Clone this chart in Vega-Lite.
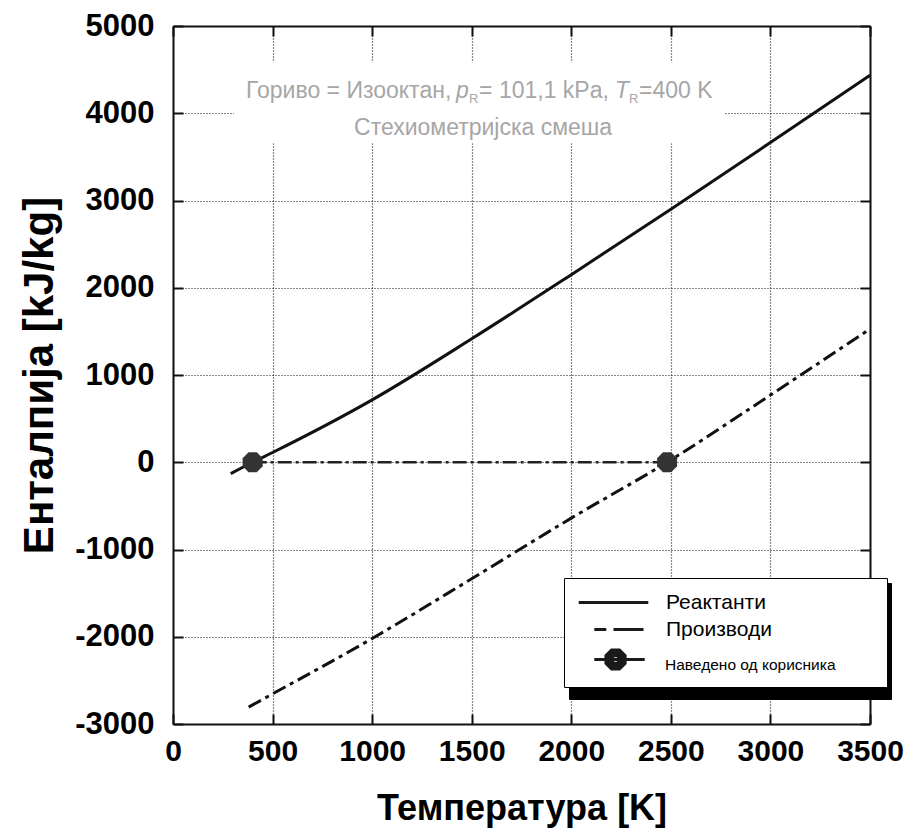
{
  "$schema": "https://vega.github.io/schema/vega-lite/v6.json",
  "width": 697,
  "height": 698,
  "autosize": "none",
  "padding": {"left": 173, "top": 26, "right": 50, "bottom": 115},
  "background": "white",
  "config": {
    "view": {"stroke": null},
    "axis": {"domainColor": "#111", "domainWidth": 2, "tickColor": "#111", "tickWidth": 2, "gridColor": "#111", "gridDash": [1, 2], "gridWidth": 1.2}
  },
  "datasets": {
    "curves": [
      {"T": 290, "H": -130, "series": "Реактанти"},
      {"T": 400, "H": 0, "series": "Реактанти"},
      {"T": 500, "H": 112, "series": "Реактанти"},
      {"T": 1000, "H": 715, "series": "Реактанти"},
      {"T": 1500, "H": 1415, "series": "Реактанти"},
      {"T": 2000, "H": 2150, "series": "Реактанти"},
      {"T": 2500, "H": 2900, "series": "Реактанти"},
      {"T": 3000, "H": 3665, "series": "Реактанти"},
      {"T": 3500, "H": 4436, "series": "Реактанти"},
      {"T": 380, "H": -2806, "series": "Производи"},
      {"T": 500, "H": -2655, "series": "Производи"},
      {"T": 1000, "H": -2020, "series": "Производи"},
      {"T": 1500, "H": -1335, "series": "Производи"},
      {"T": 2000, "H": -640, "series": "Производи"},
      {"T": 2481, "H": 0, "series": "Производи"},
      {"T": 3000, "H": 770, "series": "Производи"},
      {"T": 3500, "H": 1527, "series": "Производи"}
    ],
    "user": [
      {"T": 400, "H": 0, "series": "Наведено од корисника"},
      {"T": 2481, "H": 0, "series": "Наведено од корисника"}
    ],
    "one": [{}]
  },
  "resolve": {"axis": {"x": "independent", "y": "independent"}},
  "layer": [
    {
      "data": {"name": "curves"},
      "transform": [{"filter": "datum.series === 'Реактанти'"}],
      "mark": {"type": "line", "color": "#111", "strokeWidth": 3, "interpolate": "monotone"},
      "encoding": {
        "x": {"field": "T", "type": "quantitative", "scale": {"domain": [0, 3500], "nice": false},
          "axis": {"orient": "bottom", "values": [0, 500, 1000, 1500, 2000, 2500, 3000, 3500], "grid": true, "tickSize": -10,
            "labelExpr": "'' + datum.value",
            "labelFont": "Liberation Sans", "labelFontWeight": "bold", "labelFontSize": 30, "labelColor": "#000", "labelPadding": 22, "labelFlush": false,
            "title": "Температура [K]", "titleFont": "Liberation Sans", "titleFontWeight": "bold", "titleFontSize": 36, "titleColor": "#000", "titlePadding": 25}},
        "y": {"field": "H", "type": "quantitative", "scale": {"domain": [-3000, 5000], "nice": false},
          "axis": {"orient": "left", "values": [-3000, -2000, -1000, 0, 1000, 2000, 3000, 4000, 5000], "grid": true, "tickSize": -10,
            "labelExpr": "datum.value < 0 ? '-' + abs(datum.value) : '' + datum.value",
            "labelFont": "Liberation Sans", "labelFontWeight": "bold", "labelFontSize": 31, "labelColor": "#000", "labelPadding": 29, "labelFlush": false,
            "title": "Енталпија [kJ/kg]", "titleFont": "Liberation Sans", "titleFontWeight": "bold", "titleFontSize": 42, "titleColor": "#000", "titlePadding": 13}}
      }
    },
    {
      "data": {"name": "curves"},
      "transform": [{"filter": "datum.series === 'Производи'"}],
      "mark": {"type": "line", "color": "#111", "strokeWidth": 3, "strokeDash": [14, 5, 4, 5], "interpolate": "monotone"},
      "encoding": {
        "x": {"field": "T", "type": "quantitative", "axis": {"orient": "top", "values": [0, 500, 1000, 1500, 2000, 2500, 3000, 3500], "grid": false, "labels": false, "tickSize": -10, "title": null}},
        "y": {"field": "H", "type": "quantitative", "axis": {"orient": "right", "values": [-3000, -2000, -1000, 0, 1000, 2000, 3000, 4000, 5000], "grid": false, "labels": false, "tickSize": -10, "title": null}}
      }
    },
    {
      "data": {"name": "user"},
      "mark": {"type": "line", "color": "#222", "strokeWidth": 2.5, "strokeDash": [14, 4, 3, 4]},
      "encoding": {
        "x": {"field": "T", "type": "quantitative", "axis": null},
        "y": {"field": "H", "type": "quantitative", "axis": null}
      }
    },
    {
      "data": {"name": "user"},
      "mark": {"type": "point", "filled": true, "fill": "#333", "opacity": 1, "size": 400, "shape": "M-0.41,-1H0.41L1,-0.41V0.41L0.41,1H-0.41L-1,0.41V-0.41Z"},
      "encoding": {
        "x": {"field": "T", "type": "quantitative", "axis": null},
        "y": {"field": "H", "type": "quantitative", "axis": null}
      }
    },
    {
      "data": {"name": "one"},
      "mark": {"type": "rect", "color": "white"},
      "encoding": {
        "x": {"datum": 306, "type": "quantitative", "axis": null}, "x2": {"datum": 2772},
        "y": {"datum": 4585, "type": "quantitative", "axis": null}, "y2": {"datum": 3657}
      }
    },
    {
      "data": {"name": "curves"},
      "transform": [{"filter": "false"}],
      "mark": {"type": "point", "filled": true, "fill": "#000", "stroke": "#000", "opacity": 1, "size": 576},
      "encoding": {
        "x": {"field": "T", "type": "quantitative", "axis": null},
        "y": {"field": "H", "type": "quantitative", "axis": null},
        "color": {"field": "series", "type": "nominal",
          "scale": {"domain": ["Наведено од корисника", "Производи", "Реактанти"], "range": ["#000", "#000", "#000"]},
          "legend": {"title": null, "orient": "none", "legendX": 396, "legendY": 557, "padding": 11,
            "fillColor": "#000", "strokeColor": "#000",
            "symbolSize": 576, "symbolOffset": 25, "labelOffset": 39, "rowPadding": 3, "labelLimit": 400,
            "labelExpr": "datum.value === 'Наведено од корисника' ? '\u2800\u2800\u2800\u2800\u2800\u2800\u2800\u2800\u2800\u2800\u2800\u2800\u2800\u2800' : datum.label",
            "labelFont": "Liberation Sans", "labelFontSize": 21, "labelColor": "#000"}}
      }
    },
    {
      "data": {"name": "curves"},
      "transform": [{"filter": "false"}],
      "mark": {"type": "point", "filled": false, "color": "#1a1a1a", "strokeWidth": 3, "opacity": 1, "size": 576},
      "encoding": {
        "x": {"field": "T", "type": "quantitative", "axis": null},
        "y": {"field": "H", "type": "quantitative", "axis": null},
        "shape": {"field": "series", "type": "nominal",
          "scale": {"domain": ["Реактанти", "Производи", "Наведено од корисника"],
            "range": ["M-2.9,0H2.9", "M-1.6,0H-0.6M0,0H2.5",
              "M-1.6,0H2.6M-0.16,-0.8H0.5L0.97,-0.33V0.33L0.5,0.8H-0.16L-0.63,0.33V-0.33ZM-0.06,-0.56H0.4L0.73,-0.23V0.23L0.4,0.56H-0.06L-0.39,0.23V-0.23ZM0.04,-0.32H0.3L0.49,-0.13V0.13L0.3,0.32H0.04L-0.15,0.13V-0.13Z"]},
          "legend": {"title": null, "orient": "none", "legendX": 391, "legendY": 552, "padding": 11,
            "fillColor": "white", "strokeColor": "#000",
            "symbolSize": 576, "symbolOffset": 25, "labelOffset": 39, "rowPadding": 3, "labelLimit": 400,
            "symbolStrokeColor": "#1a1a1a", "symbolStrokeWidth": 3,
            "labelExpr": "datum.value === 'Наведено од корисника' ? '\u2800\u2800\u2800\u2800\u2800\u2800\u2800\u2800\u2800\u2800\u2800\u2800\u2800\u2800' : datum.label",
            "labelFont": "Liberation Sans", "labelFontSize": 21, "labelColor": "#000"}}
      }
    },
    {
      "data": {"name": "curves"},
      "transform": [{"filter": "false"}],
      "mark": {"type": "point", "filled": true, "opacity": 0, "size": 576},
      "encoding": {
        "x": {"field": "T", "type": "quantitative", "axis": null},
        "y": {"field": "H", "type": "quantitative", "axis": null},
        "strokeDash": {"field": "series", "type": "nominal",
          "scale": {"domain": ["Наведено од корисника"], "range": [[1, 0]]},
          "legend": {"title": null, "orient": "none", "legendX": 391, "legendY": 615, "padding": 11,
            "fillColor": "transparent", "strokeColor": "transparent",
            "symbolSize": 576, "symbolOffset": 25, "labelOffset": 39, "labelLimit": 400,
            "symbolOpacity": 0,
            "labelFont": "Liberation Sans", "labelFontSize": 15.5, "labelColor": "#000"}}
      }
    },
    {
      "data": {"name": "one"},
      "mark": {"type": "text", "align": "left", "baseline": "alphabetic", "font": "Liberation Sans", "fontSize": 23, "color": "#a6a6a6"},
      "encoding": {"x": {"datum": 367, "type": "quantitative", "axis": null}, "y": {"datum": 4173, "type": "quantitative", "axis": null}, "text": {"value": "Гориво = Изооктан,"}}
    },
    {
      "data": {"name": "one"},
      "mark": {"type": "text", "align": "left", "baseline": "alphabetic", "font": "Liberation Sans", "fontSize": 23, "fontStyle": "italic", "color": "#a6a6a6"},
      "encoding": {"x": {"datum": 1421, "type": "quantitative", "axis": null}, "y": {"datum": 4173, "type": "quantitative", "axis": null}, "text": {"value": "p"}}
    },
    {
      "data": {"name": "one"},
      "mark": {"type": "text", "align": "left", "baseline": "alphabetic", "font": "Liberation Sans", "fontSize": 13, "color": "#a6a6a6"},
      "encoding": {"x": {"datum": 1486, "type": "quantitative", "axis": null}, "y": {"datum": 4116, "type": "quantitative", "axis": null}, "text": {"value": "R"}}
    },
    {
      "data": {"name": "one"},
      "mark": {"type": "text", "align": "left", "baseline": "alphabetic", "font": "Liberation Sans", "fontSize": 23, "color": "#a6a6a6"},
      "encoding": {"x": {"datum": 1537, "type": "quantitative", "axis": null}, "y": {"datum": 4173, "type": "quantitative", "axis": null}, "text": {"value": "= 101,1 kPa,"}}
    },
    {
      "data": {"name": "one"},
      "mark": {"type": "text", "align": "left", "baseline": "alphabetic", "font": "Liberation Sans", "fontSize": 23, "fontStyle": "italic", "color": "#a6a6a6"},
      "encoding": {"x": {"datum": 2219, "type": "quantitative", "axis": null}, "y": {"datum": 4173, "type": "quantitative", "axis": null}, "text": {"value": "T"}}
    },
    {
      "data": {"name": "one"},
      "mark": {"type": "text", "align": "left", "baseline": "alphabetic", "font": "Liberation Sans", "fontSize": 13, "color": "#a6a6a6"},
      "encoding": {"x": {"datum": 2290, "type": "quantitative", "axis": null}, "y": {"datum": 4116, "type": "quantitative", "axis": null}, "text": {"value": "R"}}
    },
    {
      "data": {"name": "one"},
      "mark": {"type": "text", "align": "left", "baseline": "alphabetic", "font": "Liberation Sans", "fontSize": 23, "color": "#a6a6a6"},
      "encoding": {"x": {"datum": 2340, "type": "quantitative", "axis": null}, "y": {"datum": 4173, "type": "quantitative", "axis": null}, "text": {"value": "=400 K"}}
    },
    {
      "data": {"name": "one"},
      "mark": {"type": "text", "align": "center", "baseline": "alphabetic", "font": "Liberation Sans", "fontSize": 23, "color": "#a6a6a6"},
      "encoding": {"x": {"datum": 1557, "type": "quantitative", "axis": null}, "y": {"datum": 3750, "type": "quantitative", "axis": null}, "text": {"value": "Стехиометријска смеша"}}
    }
  ]
}
